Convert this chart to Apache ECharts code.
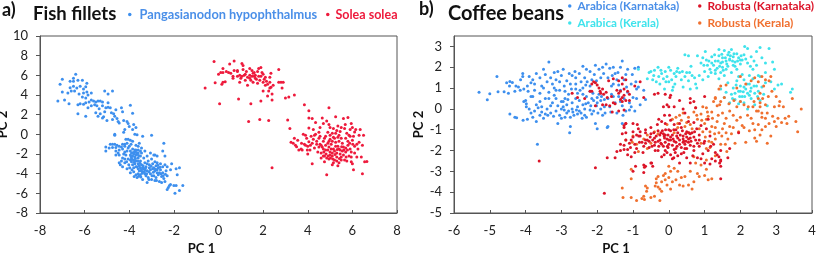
<!DOCTYPE html>
<html><head><meta charset="utf-8">
<style>html,body{margin:0;padding:0;background:#fff}#c{width:817px;height:254px}</style>
<script src="https://cdn.jsdelivr.net/npm/echarts@6/dist/echarts.min.js"></script></head>
<body><div id="c"></div>
<script>
const pangasianodon=[[-6.4,6.1],[-6.5,5.7],[-7,5.6],[-7.1,5.1],[-7,4.3],[-7.2,3.4],[-6.9,3.5],[-6.75,4.2],[-6.7,3.1],[-6.65,5.4],[-6.5,5.4],[-6.3,5.5],[-6.1,5.5],[-5.9,5.2],[-5.95,4.85],[-6.65,4.75],[-6.6,4.4],[-6.5,4.9],[-6.45,4.4],[-6.35,4.7],[-6.2,4.9],[-6.25,4.1],[-6.05,4.6],[-6.05,4.2],[-5.9,4.3],[-5.85,4],[-5.7,4.2],[-5.95,3.7],[-6.1,3.8],[-6.3,3],[-6.2,3.1],[-6.05,3.05],[-5.95,3.2],[-5.8,3.3],[-5.7,3.5],[-5.6,3.4],[-5.5,3.3],[-5.4,3.4],[-5.3,3.4],[-5.2,3.3],[-5.1,4.4],[-4.95,4.1],[-4.75,4.4],[-4.95,3.2],[-5.2,2.9],[-5.05,2.7],[-5.45,2.9],[-5.55,3],[-5.7,2.9],[-5.85,2.7],[-6.3,2.1],[-5.95,1.85],[-5.5,2.2],[-5.4,1.85],[-5.35,2.6],[-5.3,2.1],[-5.15,1.8],[-5.1,2.3],[-4.95,2.75],[-4.85,2.7],[-4.8,2.2],[-4.7,2.1],[-5,1.4],[-5.2,1.65],[-4.65,1.85],[-4.55,1.6],[-4.75,1.5],[-4.6,2.5],[-4.35,2.7],[-4.3,2.3],[-4.5,1.3],[-4.45,1.15],[-4.25,1.4],[-3.95,2.95],[-3.85,2.15],[-4.1,1.3],[-4.05,1.1],[-4,0.8],[-3.8,1],[-3.7,0.7],[-3.85,0.5],[-4.2,0.5],[-4.25,0.2],[-3.75,0],[-3.65,-0.05],[-3.4,-0.2],[-3,-0.1],[-4.65,0],[-4.65,-0.1],[-2.45,-0.9],
[-4.85,-1],[-4.75,-1],[-4.65,-1],[-4.55,-1.1],[-5.05,-1.3],[-5.05,-1.7],[-4.9,-1.4],[-4.75,-1.35],[-4.6,-1.35],[-4.45,-1.6],[-4.5,-1.9],[-4.35,-1.3],[-4.3,-1.5],[-4.2,-1.2],[-4.15,-0.5],[-4.05,-0.5],[-3.95,-0.6],[-3.85,-0.7],[-3.7,-1.1],[-3.6,-1.2],[-3.45,-1.4],[-3.3,-1.7],[-3.05,-1.9],[-2.85,-2.1],[-2.75,-2.2],[-2.5,-1.7],[-2.4,-2.2],[-2.1,-3],[-2.3,-3.3],[-1.9,-3.5],[-1.75,-3.4],[-1.85,-4.1],[-2.15,-3.6],[-4.2,-1.8],[-4.15,-2.1],[-4.3,-2.4],[-4.45,-2.1],[-4.45,-2.9],[-4.4,-3.1],[-4.3,-3.3],[-4.2,-2.9],[-4.1,-3.5],[-4.05,-2.5],[-4.05,-1.4],[-4,-1.2],[-3.95,-1.7],[-3.95,-2.1],[-3.9,-2.4],[-3.9,-2.8],[-3.85,-1.5],[-3.85,-3.1],[-3.8,-2],[-3.8,-2.6],[-3.8,-3.4],[-3.75,-1.8],[-3.75,-2.3],[-3.75,-3],[-3.7,-1.6],[-3.7,-2.1],[-3.7,-2.7],[-3.65,-3.3],[-3.65,-4.4],[-3.6,-1.9],[-3.6,-2.4],[-3.6,-3],[-3.55,-3.7],[-3.5,-2.2],[-3.5,-2.7],[-3.5,-3.4],[-3.45,-1.9],[-3.45,-3.1],[-3.4,-3.8],[-3.4,-4.6],[-3.35,-2.4],[-3.35,-3.5],[-3.3,-2.9],[-3.3,-4],[-3.25,-3.3],[-3.25,-4.2],[-3.2,-2.2],[-3.2,-3.7],[-3.15,-2.7],[-3.15,-4.4],[-3.1,-3.1],[-3.05,-3.6],[-3.05,-4],[-3,-2.5],[-3,-4.6],[-2.95,-3],[-2.95,-3.5],[-2.9,-4.2],[-2.9,-2.1],[-2.85,-2.8],[-2.85,-3.7],[-2.85,-4.7],[-2.8,-3.2],[-2.8,-4.4],[-2.75,-2.9],[-2.75,-3.9],[-2.7,-3.4],[-2.7,-4.1],[-2.65,-4.8],[-2.6,-3.6],[-2.6,-3],[-2.55,-4.3],[-2.55,-4.9],[-2.5,-3.3],[-2.5,-3.9],[-2.45,-4.5],[-2.4,-3.1],[-2.4,-4.8],[-2.35,-3.7],[-2.3,-4.2],[-2.25,-5.4],[-2.2,-5.2],[-2.15,-5.1],[-2,-5.2],[-1.9,-5.2],[-1.95,-6],[-1.75,-5.7],[-1.6,-5.2],[-2.3,-5.6],[-3.95,-3.9],[-3.8,-3.8],[-3.7,-4.1],[-3.5,-4.1],[-3.6,-3.5],[-3.45,-3.6],[-3.3,-3.6],[-3.4,-3.4],[-3.55,-3.2],[-3.85,-2.2],[-3.9,-1.9],[-3.75,-1.6],[-3.65,-2],[-3.95,-2.6],[-3.7,-3.3],[-2.75,-3.6],[-2.9,-3.4],[-3.1,-3.4],[-3.2,-3],[-2.65,-3.9],[-4.6,-1.7],[-4.3,-1],[-4.2,-1],[-4.1,-0.9],[-3.6,-4],[-4.1,-1.7],[-4.2,-2.5],[-3.2,-4.9],[-3.6,-1.6],[-3.5,-1.7],
[-3.92,-2.25],[-3.88,-2.55],[-3.82,-1.85],[-3.78,-2.85],[-3.72,-2.45],[-3.68,-1.85],[-3.62,-2.7],[-3.58,-2.15],[-3.52,-2.95],[-3.48,-3.7],[-3.42,-3.95],[-3.38,-3.2],[-3.32,-3.8],[-3.28,-3.45],[-3.22,-4],[-3.12,-3.8],[-3.02,-3.25],[-2.92,-3.85],[-2.82,-3.55],[-2.72,-3.15],[-2.62,-3.35],[-2.58,-4],[-2.48,-4.2],[-2.38,-4.05],[-4.35,-2.7],[-4.25,-2],[-4.12,-2.8],[-4.02,-3.1],[-3.98,-3.4],[-3.88,-3.6],[-3.78,-4.3],[-3.58,-4.25],[-3.48,-4.35],[-3.12,-4.6],[-2.98,-4.2],[-2.78,-4.7],[-4.6,-2.1],[-4.45,-1.2],[-3.92,-1],[-3.55,-0.9]];
const soleaSolea=[[-0.2,7.4],[-0.6,4.7],[-0.15,5.25],[0.05,3.1],[0.15,5.1],[0.2,5.3],[0.3,5.35],[0,6.1],[0.1,6.3],[0.2,6.7],[0.2,6.3],[0.35,6.4],[0.45,6.3],[0.5,7.15],[0.55,6.2],[0.65,5.9],[0.7,6.5],[0.7,7.45],[0.65,5.7],[0.85,6.4],[0.85,6.5],[0.95,6],[0.95,5.3],[0.9,3.6],[1,5.7],[1.05,7.2],[1.1,7],[1.1,6.6],[1.15,6],[1.2,5.5],[1.25,6.4],[1.3,5.8],[1.3,5],[1.35,1.3],[1.4,6.7],[1.4,6],[1.45,3.1],[1.45,5.5],[1.5,5.9],[1.5,6.5],[1.55,5.3],[1.6,5.9],[1.6,6.3],[1.65,6],[1.7,5.6],[1.75,6.4],[1.75,5.2],[1.8,5.9],[1.8,6.7],[1.85,1.5],[1.85,5.5],[1.9,6.8],[1.9,5.9],[1.9,3.4],[1.95,6.3],[2,5.3],[2,6.1],[2.05,5.6],[2.1,5],[2.15,5.4],[2.2,3.9],[2.25,4.4],[2.25,1.4],[2.3,5.8],[2.3,5.3],[2.35,4.8],[2.35,6.2],[2.4,4.1],[2.4,3.5],[2.45,5],[2.7,6.6],[2.7,5.3],[2.8,5.3],[2.85,4.7],[2.9,5.3],[3,3.7],[3.15,3.8],[3.4,4],[3.85,3],[4.05,2.4],[4.05,1.65],[4.2,1.6],[3.1,1.45],[3.2,0.6],[2.4,-3.4],[3.25,-0.8],[3.35,-0.9],[3.4,-0.4],[3.45,-1.1],[3.5,-1.25],[3.55,-0.6],[3.6,-1.6],[3.7,-1.5],[3.75,-1.6],[3.8,0],[3.9,-0.1],[3.85,-1],[3.95,-0.4],[4,-1.2],[4,-2],[4.05,0.65],[4.05,-0.75],[4.1,-1.6],[4.15,-0.2],[4.2,-0.9],[4.2,-3],[4.3,-1.4],[4.35,0],[4.35,1.2],[4.4,-0.7],[4.45,-1.8],[4.5,0.2],[4.5,-0.4],[4.55,-1],[4.6,-1.9],[4.65,1.65],[4.65,-1.3],[4.7,-0.7],[4.7,1.1],[4.75,-2.2],[4.8,-0.2],[4.8,-1.6],[4.85,1.35],[4.85,-4.1],[4.9,0.2],[4.9,-0.9],[4.95,-1.3],[4.95,-2.5],[5,0.7],[5,-0.5],[5,-1.8],[4.95,2.7],[5.05,-1],[5.1,-2.2],[5.1,0.1],[5.15,-1.5],[5.15,-0.3],[5.2,-2.6],[5.25,1.8],[5.25,-0.8],[5.3,0.4],[5.3,-1.9],[5.35,-1.2],[5.4,-2.9],[5.4,-0.1],[5.45,-1.6],[5.5,0.7],[5.5,-2.3],[5.55,-0.9],[5.6,1.6],[5.6,-1.3],[5.65,0.6],[5.65,-2.6],[5.7,-0.4],[5.7,-1.8],[5.75,0.1],[5.8,1.7],[5.8,-1.1],[5.85,-2.2],[5.9,-0.2],[5.9,-1.5],[5.95,-2.8],[5.95,1.1],[6,0.7],[6,-0.6],[6,-3],[6.05,-3.6],[6.1,-1.9],[6.15,0.5],[6.2,-1],[6.2,-2.3],[6.3,-0.1],[6.35,0.5],[6.4,-2.3],[6.45,-4],[6.45,-1.1],[6.5,-0.1],[6.55,-2.8],[6.65,-2.75],[5.2,-1.7],[5.1,-1.9],[5,-2.1],[5.3,-2.3],[5.4,-1.5],[5.45,-2],[5.25,-1.2],[5.05,-1.5],[4.9,-1.6],[4.8,-1.1],[4.7,-1.5],[4.6,-1.1],[5.55,-1.7],[5.6,-2.1],[5.7,-1.4],[5.8,-0.7],[5.5,-0.4],[5.4,-0.7],[5.2,-0.4],[5,-0.1],[4.5,-1.3],[4.4,-1],[4.25,-0.5],[3.9,-1.1],[5.15,-2.9],[5.3,-2.7],[5.5,-2.6],[4.85,-2.4],[4.7,-2.2],[4.6,-2.4],[5.85,-0.1],[6.05,-0.2],[6.1,-1.2],[5.95,-1.8],[1.55,6.2],[1.65,5.7],[1.4,5.7],[1.2,6.1],[1.05,5.9],[0.85,5.9],[2.1,5.8],[2.2,5.1],[2,4.4],[2.3,4.7],
[4.72,-1.8],[4.82,-2],[4.92,-2.2],[5.02,-2.4],[5.12,-2.5],[5.22,-2.05],[5.32,-1.55],[5.42,-2.45],[5.52,-1.25],[5.62,-1.6],[5.72,-2.3],[5.78,-1.6],[5.88,-0.9],[5.35,-0.3],[5.25,0.1],[5.45,0.3],[5.1,-0.7],[4.95,-0.7],[4.75,-0.4],[4.55,-0.2],[4.3,-0.1],[4.12,-1.1],[3.98,-1.6],[3.72,-0.9],[6.02,-1],[6.25,-1.5],[6.3,-0.8],[6.1,0.25],[5.9,0.5],[5.68,1],[5.35,0.85],[5.15,0.6],[4.95,1],[4.55,0.7],[4.25,0.5],[5.95,-2.3],[5.75,-2.7],[5.35,-3.2],[5.1,-3.1],[4.75,-2.8]];
const arabicaKarnataka=[[-5.3,0.8],[-5,0.73],[-5.07,0.44],[-4.8,1.55],[-4.77,0.82],[-4.6,0.82],[-4.48,0.75],[-4.53,1.25],[-4.44,1.32],[-4.37,1.27],[-4.27,1.1],[-4.2,1.05],[-4.14,1.4],[-4.08,1.7],[-4.08,1.55],[-4.44,-0.25],[-4.3,-0.4],[-4.25,-0.42],[-4.07,-0.55],[-3.95,-0.5],[-4,0.4],[-3.98,0.25],[-3.93,0.85],[-3.85,1.25],[-3.8,1.4],[-3.75,1.2],[-3.7,1.7],[-3.6,1.5],[-3.55,1.1],[-3.5,1.9],[-3.4,1.3],[-3.35,2.25],[-3.3,1.5],[-3.2,1],[-3.15,1.4],[-3.1,1.8],[-3,1.6],[-2.95,1.9],[-2.85,1.35],[-2.75,1.2],[-2.7,1.6],[-2.6,1.5],[-2.5,1.7],[-2.45,1.3],[-2.4,2.05],[-2.35,1.5],[-2.3,1.9],[-2.2,1.8],[-2.15,1.4],[-2.05,2.1],[-1.95,1.9],[-1.85,2],[-1.75,2.15],[-1.65,1.95],[-1.55,2],[-1.5,1.7],[-1.35,2],[-1.3,2.3],[-1.15,1.9],[-0.95,1.95],[-0.85,2],[-3.9,0],[-3.85,-0.2],[-3.8,0.6],[-3.75,0.9],[-3.7,0.2],[-3.7,-0.6],[-3.6,-0.3],[-3.55,0.1],[-3.5,-0.45],[-3.45,0.5],[-3.4,0],[-3.35,0.8],[-3.3,-0.2],[-3.25,0.3],[-3.2,0.65],[-3.15,-0.1],[-3.1,-0.7],[-3.05,0.9],[-3,0.35],[-2.95,0.1],[-2.9,-0.4],[-2.85,0.2],[-2.8,0.7],[-2.8,-0.1],[-2.75,-0.85],[-2.77,-1.15],[-2.7,0.3],[-2.65,-0.3],[-2.6,0.95],[-2.55,0.1],[-2.5,0.4],[-2.45,-0.2],[-2.4,0.7],[-2.35,0],[-2.3,-0.4],[-2.25,0.3],[-2.2,1.1],[-2.15,0.5],[-2.1,-0.1],[-2.05,-0.7],[-2,0.3],[-2,-0.95],[-1.95,0.7],[-1.9,0],[-1.85,-0.3],[-1.8,0.45],[-1.72,-0.9],[-1.7,-0.85],[-1.65,0.1],[-1.6,0.7],[-1.55,1.2],[-1.5,0.3],[-1.45,-0.2],[-1.4,0.6],[-1.35,0.9],[-1.3,0.15],[-1.25,1.4],[-1.2,-0.1],[-1.15,0.8],[-1.1,0.3],[-1.05,1.2],[-1,0.55],[-0.95,-0.1],[-0.9,0.5],[-0.85,1.05],[-0.8,0.2],[-0.7,0.9],[-0.65,0.45],[-1.3,-0.7],[-3.67,-1.7],[-2.95,0.35],[-2.9,0.5],[-2.7,0],[-2.6,0.5],[-2.5,-0.1],[-2.4,0.2],[-2.3,0.6],[-2.2,-0.05],[-2.1,0.4],[-2,0.55],[-1.9,0.4],[-1.8,0.1],[-1.7,0.5],[-3.85,0.6],[-4.15,0.9],[-3.6,0.75],[-3.25,1.2],[-2.6,1.2],[-2.4,1],[-1.9,1.5],[-1.7,1.5],[-1.6,1.1],[-1.45,1.4],[-3,0],[-2.85,-0.2],[-2.75,-0.4],[-2.55,-0.25],[-2.35,-0.3],[-2.15,-0.25],[-3.55,-0.15],[-3.3,0.15],[-3.65,0.05],[-3.45,-0.25],[-3.05,-0.3],[-2.9,0.85],[-2.55,0.75],[-2.2,0.85],[-1.25,0.5],[-1.1,-0.05],[-1.55,0.6],[-1.35,0.35],[-1.05,0.1],[-0.9,0.95],[-1.2,1.65],[-1.4,1.15],[-4.05,0.35],[-3.8,-0.4],[-3.95,1.1],[-3.9,1.55],[-3.45,1.65],[-3.2,1.75],[-3.35,0.5],[-3.15,0.5],
[-4.45,1.1],[-4.3,0.85],[-4.05,0.95],[-3.98,0.1],[-3.75,-0.1],[-3.6,0.35],[-3.5,1],[-3.38,-0.3],[-3.22,-0.35],[-3.1,0.15],[-3,-0.45],[-2.92,-0.05],[-2.82,0.45],[-2.72,0.95],[-2.68,-0.15],[-2.58,-0.05],[-2.48,0.9],[-2.42,-0.45],[-2.32,0.25],[-2.28,1.3],[-2.18,0.15],[-2.12,0.75],[-2.02,0.15],[-1.98,-0.2],[-1.88,0.6],[-1.82,1.7],[-1.78,-0.2],[-1.62,-0.15],[-1.58,1.6],[-1.42,1.75],[-1.28,-0.3],[-1.18,1.05],[-1.02,1.65],[-0.92,1.3],[-3.15,0.9],[-3.05,1.3],[-2.92,1.1],[-2.78,1.7],[-2.62,1.8],[-2.32,1.15],[-2.08,1.65],[-2.02,1.35]];
const arabicaKerala=[[-0.85,1.9],[-0.6,1.45],[-0.55,1.75],[-0.5,1.8],[-0.45,1.4],[-0.4,1.85],[-0.35,1.3],[-0.3,2],[-0.28,1.55],[-0.25,1.2],[-0.2,1.7],[-0.15,1.45],[-0.12,0.95],[-0.1,1.8],[-0.05,1.55],[0,1.3],[0,2],[0.05,1.85],[0.1,0.9],[0.12,1.05],[0.15,1.7],[0.17,1.2],[0.2,1.55],[0.25,1.95],[0.3,1.75],[0.35,1.4],[0.4,1.05],[0.45,1.55],[0.5,1.75],[0.55,1.35],[0.6,0.95],[0.65,1.6],[0.62,2.05],[0.75,1.2],[0.45,2.6],[0.55,2.55],[0.8,2.55],[0.78,1],[0.85,1.6],[0.9,2.2],[0.95,2.45],[0.95,1.4],[1,1.8],[1.02,2.75],[1.05,2.35],[1.08,2.1],[1.1,1.55],[1.15,1.9],[1.2,2.5],[1.25,2.1],[1.3,2.3],[1.3,1.7],[1.35,1.95],[1.4,2.55],[1.4,2.85],[1.45,2.2],[1.45,1.75],[1.5,2.45],[1.5,2],[1.55,2.8],[1.55,1.6],[1.6,2.3],[1.65,2.6],[1.65,2.05],[1.7,2.35],[1.75,1.75],[1.75,2.85],[1.8,2.5],[1.8,2.1],[1.85,2.25],[1.9,2.65],[1.9,1.9],[1.95,2.45],[2,2.15],[2.05,2.35],[2.05,1.65],[2.1,2.6],[2.12,3],[2.2,2.9],[2.2,2.2],[2.25,1.6],[2.3,2.5],[2.35,1.9],[2.45,2.1],[2.45,2.75],[2.5,1.6],[2.55,2.95],[2.6,2.45],[2.7,2.2],[2.7,1.75],[2.8,2.9],[2.9,2.25],[2.95,1.9],[1.45,0.95],[1.55,0.55],[1.6,0.8],[1.65,1.25],[1.7,0.3],[1.75,0.7],[1.8,1],[1.85,0.45],[1.9,1.35],[1.95,0.85],[1.95,0.25],[2,1.1],[2.05,0.6],[2.1,1.4],[2.1,0.3],[2.15,0.95],[2.2,0.75],[2.2,0],[2.25,1.2],[2.3,1],[2.3,0.5],[2.35,1.45],[2.4,0.75],[2.4,0.2],[2.45,1.1],[2.5,0.85],[2.55,0.4],[2.55,1.55],[2.6,1.05],[2.65,0.7],[2.7,1.25],[2.75,0.15],[2.85,1.3],[2.95,0.95],[3.05,1.15],[3.15,1.2],[3.45,0.95],[3.4,0.8],[1.7,2.4],[1.5,2.25],[1.3,1.85],[1.2,2.2],[2,2.35],[1.85,2.05],[1.95,1.55],[1.6,1.9],[1.4,1.45],[2.1,1.05],[1.85,0.75],[2.25,0.65],[2,0.35],
[1.58,2.45],[1.62,2.15],[1.72,2.55],[1.78,2.3],[1.82,2.65],[1.92,2.3],[1.68,2.72],[1.48,2.62],[1.38,2.3],[1.28,2.6],[1.18,1.75],[1.12,2.3],[0.98,2.1],[1.42,2.05],[1.52,1.85],[2.02,2.55],[2.15,2.4],[2.28,2.05],[2.38,2.3],[2,0.85],[2.08,0.82],[2.12,0.6],[1.98,0.6],[2.18,1.2],[2.28,0.85],[2.38,1.1],[2.48,0.6],[1.78,0.5],[1.88,1.15],[-0.42,1.6],[-0.22,1.85],[-0.08,1.3],[0.08,1.4],[0.22,1.8],[0.38,1.8],[0.58,1.75],[0.72,1.5]];
const robustaKarnataka=[[-3.62,-2.5],[-2.05,-2.83],[-1.8,-4.05],[-1.72,-2.35],[-1.5,-2.35],[-1.45,-2.05],[-1.35,-2],[-1.25,-1.75],[-1.15,-1.95],[-1.05,-2.3],[-1.3,-1.2],[-2.15,1.2],[-2.1,1.3],[-2.05,1.25],[-2,1.15],[-2.2,0.85],[-2.15,0.85],[-2.7,0.75],[-2.55,0.55],[-2.35,0.5],[-2.05,0.15],[-1.95,1],[-1.92,0.85],[-1.9,0.75],[-1.85,0.95],[-1.82,0.7],[-1.75,0.8],[-1.72,0.55],[-1.68,1.35],[-1.6,0.6],[-1.55,1.45],[-1.5,0.25],[-1.85,0.2],[-1.75,0.2],[-1.65,0.15],[-1.58,-0.15],[-1.45,0.9],[-1.4,-0.1],[-1.35,0.85],[-1.3,1.2],[-1.25,-0.05],[-1.2,1.4],[-1.3,1.5],[-1.4,1.35],[-1.55,0.3],[-1.25,0.65],[-1.3,0.55],[-1.4,0.75],[-1.35,0.45],[-1.25,0.95],[-1.2,0.4],[-1.15,0.85],[-1.1,0.4],[-1.1,0.7],[-1.3,0.35],[-0.95,1.1],[-0.8,1.3],[-0.7,0.55],[-0.4,0.7],[-0.3,0.75],[-0.1,0.7],[0.05,0.65],[-0.05,0.2],[0.03,0.55],[0,0.1],[-0.15,0.1],[0.15,0.1],[0.3,0.4],[0.6,0.5],[0.6,0.3],[0.7,0.35],[1,0.6],[-1.25,-0.8],[-1.2,-0.7],[-1,-1.1],[-0.9,-1.25],[-1.2,-1.5],[-1.1,-1.65],[-1,-1.35],[-0.95,-1.7],[-0.9,-1.9],[-0.85,-0.95],[-0.8,-1.3],[-0.75,-1.6],[-0.72,-2.1],[-0.7,-2.7],[-0.68,-2.8],[-0.65,-1.15],[-0.6,-1.5],[-0.55,-1.85],[-0.5,-1.2],[-0.48,-2.6],[-0.45,-1.5],[-0.45,-2.75],[-0.4,-1.75],[-0.35,-1.3],[-0.3,-2],[-0.3,-1.05],[-0.25,-1.5],[-0.2,-0.6],[-0.2,-2.3],[-0.15,-1.8],[-0.15,-1.2],[-0.1,-2],[-0.1,-0.7],[-0.05,-1.45],[0,-1.7],[0,-1],[0.05,-2.2],[0.05,-0.55],[0.1,-1.25],[0.1,-2.4],[0.15,-1.55],[0.15,-0.75],[0.2,-1.9],[0.2,-1],[0.25,-1.4],[0.3,-1.7],[0.3,-2.6],[0.35,-0.9],[0.35,-2.15],[0.4,-1.3],[0.4,-1.6],[0.45,-1.9],[0.5,-1.1],[0.5,-2.35],[0.55,-1.45],[0.55,-0.6],[0.6,-1.75],[0.6,-2.6],[0.65,-1.15],[0.7,-2],[0.7,-0.65],[0.75,-1.5],[0.8,-2.35],[0.85,-1.25],[0.85,-1.8],[0.9,-0.8],[0.95,-2.15],[1,-1.55],[1,-2.6],[1.05,-0.95],[1.1,-2],[1.15,-1.3],[1.2,-2.4],[1.25,-1.7],[1.3,-2.5],[1.35,-2.2],[1.4,-2.3],[1.42,-2.6],[1.45,-2.75],[1.45,-2.45],[1.45,-3.35],[1.7,-1.9],[1.95,-1.15],[-1.15,-2.2],[-0.3,-1.55],[-0.2,-1.7],[-0.1,-1.6],[0,-1.5],[0.05,-1.35],[0.1,-1.75],[0.2,-1.6],[0.3,-1.5],[0.4,-1.45],[0.45,-1.7],[0.5,-1.35],[0.55,-1.6],[0.05,-1.05],[-0.1,-1.25],[-0.25,-1.25],[-0.4,-1.4],[-0.55,-1.55],[-0.65,-1.65],[0.25,-1.15],[0.6,-1.2],[0.7,-1.35],[0.15,-1.95],[0.35,-1.85],[0.5,-1.9],[-0.05,-2.1],[0.25,-2.25],[-1,-3],[-0.7,-3.05],[0.45,-0.2],[0.4,0],[0.75,0.05],[1.1,-0.5],
[-1.2,-0.7],[-1.25,-0.9],[-1.2,-1.15],[-1,-0.7],[-0.88,-0.75],[-0.8,-1.1],[-0.65,-1],[-0.5,-0.9],[-0.42,-1.15],[-0.32,-0.75],[-0.28,-0.5],[-0.18,-1.05],[-0.09,-1],[-0.13,-1.3],[-0.22,-1.65],[-0.04,-1.8],[0.05,-1.5],[0.14,-1],[0.23,-1.8],[0.47,-1.2],[0.56,-1.15],[0.6,-1.4],[0.42,-1.55],[0.7,-1.8],[0.85,-1.5],[0.98,-1.65],[1.17,-1.8],[1.3,-2.1],[1.45,-2],[1.65,-2.35],[1.45,-2.5],[1.15,-2.65],[0.9,-2.4],[0.67,-2.25],[0.42,-2.1],[0.14,-2.35],[-0.13,-2.2],[-0.38,-2],[-0.47,-1.8],[-0.65,-1.5],[-0.84,-1.3],[-1.07,-1.85],[-0.93,-2.75],[-0.65,-2.75],[-0.5,-2.6],[-1.25,-1.95],[-1.35,-1.7],[-0.22,-1.15],[-0.12,-1.4],[-0.02,-1.25],[0.12,-1.45],[0.22,-1.3],[0.32,-1.25],[0.38,-1.05],[0.62,-1.55],[0.48,-1.55],[0.18,-2.1],[-0.02,-1.85],[-0.28,-1.8],[-0.38,-1.6],[-0.52,-1.35],[-0.7,-1.8],[-0.82,-1.6],[-1.05,-1.5],[-0.95,-2.1],[0.72,-1.1],[0.8,-1.65],[0.78,-0.95],[0.3,-0.7],[0.02,-0.3],[-0.12,-0.3]];
const robustaKerala=[[-1.05,-2.9],[-1.05,-3.35],[-1.3,-3.8],[-1.28,-4.25],[-1.05,-4.25],[-0.9,-4.4],[-0.75,-4.3],[-0.68,-4.35],[-0.7,-4.2],[-0.65,-3.7],[-0.62,-3.95],[-0.6,-3.8],[-0.5,-4.25],[-0.4,-4.2],[-0.35,-3.35],[-0.35,-3.55],[-0.38,-3.7],[-0.3,-3.25],[-0.3,-3.75],[-0.25,-3.85],[-0.25,-4.4],[-0.2,-3.5],[-0.2,-3.95],[-0.15,-3.2],[-0.1,-3.1],[-0.1,-3.4],[-0.05,-3.65],[0,-2.75],[0,-3.3],[0.05,-3],[0.05,-3.85],[0.1,-3.5],[0.15,-2.85],[0.2,-3.4],[0.25,-3],[0.3,-3.65],[0.35,-3.3],[0.4,-3.7],[0.45,-3.25],[0.55,-3.65],[0.6,-3],[0.65,-3.85],[0.7,-3.5],[0.8,-3.1],[0.85,-3.25],[1,-3.2],[1.1,-3.4],[1.2,-3.35],[-1.2,-1.5],[-1,-1.3],[-0.9,-1.7],[-0.7,-1.45],[-0.6,-1.25],[-0.05,-0.75],[0.1,-0.5],[0.2,-0.4],[0.25,-0.7],[0.35,-0.55],[0.4,-0.2],[0.45,-0.85],[0.55,-0.4],[0.6,-0.75],[0.7,-0.15],[0.75,0.05],[0.8,-0.5],[0.85,-0.95],[0.9,-0.25],[0.95,0.1],[1,-0.7],[1.02,-1.35],[1.05,0.05],[1.1,-0.35],[1.15,-1.1],[1.15,-1.85],[1.2,-0.15],[1.2,-0.85],[1.25,0.35],[1.3,-1.45],[1.3,-2.25],[1.3,0.5],[1.35,-0.6],[1.35,0.15],[1.4,-1.15],[1.45,-1.7],[1.45,0.35],[1.5,-0.2],[1.55,-0.7],[1.6,-1.15],[1.55,0.55],[1.6,-0.45],[1.65,-1.45],[1.7,-0.85],[1.7,-0.1],[1.75,-1.2],[1.8,-0.3],[1.8,-0.9],[1.85,-1.65],[1.9,-0.55],[1.9,0.1],[1.95,-1.1],[2,-0.4],[2.05,-0.8],[2,0.35],[2.1,0.2],[2.1,-0.9],[2.15,-1.6],[2.2,-0.3],[2.3,-0.45],[2.35,-0.7],[2.4,-1.4],[2.4,-1],[2.45,-0.1],[2.45,-1.55],[2.5,0.5],[2.5,-0.75],[2.55,0.1],[2.55,0.75],[2.6,-0.4],[2.6,-1],[2.65,1.1],[2.7,-0.85],[2.7,0.2],[2.75,-1.65],[2.75,-0.2],[2.8,-0.7],[2.85,-1.3],[2.85,1.55],[2.9,-0.35],[2.95,0.1],[3,0.6],[3,-0.85],[3.05,-0.45],[3.1,0.35],[3.15,-0.65],[3.2,0.1],[3.25,-0.45],[3.3,-0.7],[3.35,-0.35],[3.45,0.5],[3.55,-0.6],[3.6,-1.1],[3.7,0],[2.6,1.55],[2.7,1.4],[2.8,1.35],[2.4,1.5],[2.5,1.3],[2.3,1.35],[2.15,1.2],[1.9,1],[2,1.55],[1.6,1.15],[1.45,1.1],[1.4,0.95],[1.3,0.55],[2.35,0.1],[2.5,-0.1],[2.6,-0.2],[2.55,0.3],[2.7,-0.45],[-0.6,-1.9],[-0.4,-1.1],[0.7,-2.3],[0.9,-2.7],[1.05,-2.45],[1.05,-1.9],[0.9,-1.65],[0.95,-1.1],[0.55,-1.15],[0.25,-0.9],[1.3,-0.9],[1.05,-0.5],[1.2,-1.6],[1.05,-2.9],[0.75,-2.6],[1.5,-0.95],
[-1.02,-1.6],[-0.85,-2.05],[-0.5,-1.65],[-0.3,-1.2],[0.15,-1.15],[0.3,-0.3],[0.5,-0.65],[0.65,-0.95],[0.78,-0.3],[0.92,-0.55],[1.08,-0.15],[1.22,-0.45],[1.38,-0.3],[1.48,-1.3],[1.58,-1.7],[1.62,-2.05],[1.28,-1.2],[1.12,-1.55],[1.42,0.2],[1.68,0.25],[1.82,0.4],[2.22,0.1],[2.38,0.35],[2.62,0.5],[2.78,0.6],[2.88,0.85],[3.08,0.15],[2.95,-0.6],[2.55,-1.25],[2.25,-1.05]];

const blue='#3d8fee',red='#ee1a3c',cyan='#3fe3ec',dred='#dc1428',orange='#f0702f';
const font='Lato';
function axis(o,tick){return Object.assign({type:'value',splitLine:{show:false},axisLine:{onZero:false,lineStyle:{color:'#555',width:1}},axisTick:tick,axisLabel:{color:'#222',fontFamily:font,fontSize:13,margin:tick.inside?11:12,showMaxLabel:o.hideMax?false:true},nameLocation:'middle',nameTextStyle:{color:'#111',fontFamily:font,fontWeight:'bold',fontSize:13}},o)}
const xTick={length:3,inside:true,lineStyle:{color:'#555'}},yTick={length:4,inside:false,lineStyle:{color:'#555'}};
function sc(name,data,color,x,y){return{type:'scatter',name,data,xAxisIndex:x,yAxisIndex:y,symbol:'circle',symbolSize:3,itemStyle:{color,opacity:1},silent:true,animation:false}}
function leg(name,left,top,color,size,gap){return{data:[name],left,top,icon:'circle',itemWidth:3.5,itemHeight:3.5,itemGap:0,padding:0,selectedMode:false,textStyle:{color,fontFamily:font,fontWeight:'bold',fontSize:size,padding:[0,0,0,gap]}}}
function txt(text,left,top,fontSize){return{text,left,top,padding:0,textStyle:{fontFamily:font,fontWeight:'bold',fontSize,color:'#111'}}}
const chart=echarts.init(document.getElementById('c'),null,{renderer:'canvas'});
chart.setOption({animation:false,backgroundColor:'#fff',
title:[txt('a)',2,1,18),txt('Fish fillets',33,5,18.5),txt('b)',419,0,18),txt('Coffee beans',448,4,20)],
legend:[leg('Pangasianodon hypophthalmus',128,8,'#4a8fe8',12.8,3),leg('Solea solea',326,8,red,12.5,1),leg('Arabica (Karnataka)',568,0,'#4a8fe8',11.7,1),leg('Arabica (Kerala)',568,17,cyan,11.7,1),leg('Robusta (Karnataka)',698,0,dred,11.9,1),leg('Robusta (Kerala)',698,17,orange,11.9,1)],
grid:[{left:40,top:36,width:357,height:177,show:true,borderColor:'#555',borderWidth:1,outerBoundsMode:'none'},{left:454,top:36,width:358,height:177,show:true,borderColor:'#555',borderWidth:1,outerBoundsMode:'none'}],
xAxis:[axis({gridIndex:0,min:-8,max:8,interval:2,name:'PC 1',nameGap:29,nameTextStyle:{color:'#111',fontFamily:font,fontWeight:'bold',fontSize:13,padding:[0,34,0,0]}},xTick),axis({gridIndex:1,min:-6,max:4,interval:1,name:'PC 1',nameGap:29,nameTextStyle:{color:'#111',fontFamily:font,fontWeight:'bold',fontSize:13,padding:[0,34,0,0]}},xTick)],
yAxis:[axis({gridIndex:0,min:-8,max:10,interval:2,name:'PC 2',nameGap:28},yTick),axis({gridIndex:1,min:-5,max:3.5,interval:1,name:'PC 2',nameGap:28,hideMax:true},yTick)],
series:[sc('Pangasianodon hypophthalmus',pangasianodon,blue,0,0),sc('Solea solea',soleaSolea,red,0,0),sc('Arabica (Karnataka)',arabicaKarnataka,blue,1,1),sc('Arabica (Kerala)',arabicaKerala,cyan,1,1),sc('Robusta (Kerala)',robustaKerala,orange,1,1),sc('Robusta (Karnataka)',robustaKarnataka,dred,1,1)]});
</script></body></html>
